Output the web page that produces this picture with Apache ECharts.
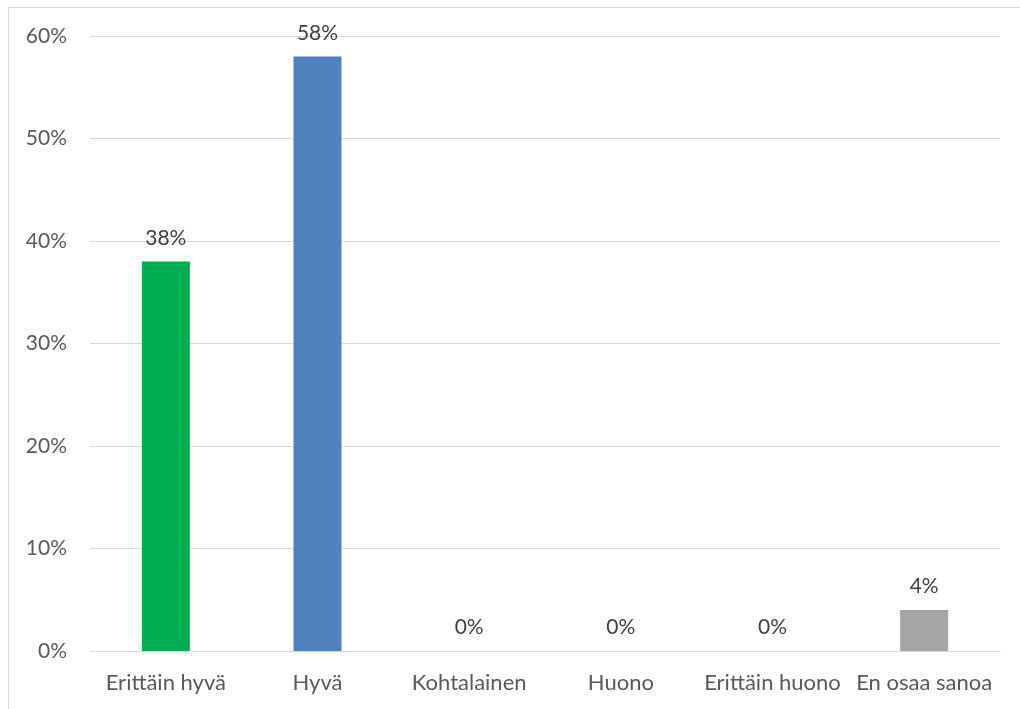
<!DOCTYPE html>
<html>
<head>
<meta charset="utf-8">
<script src="https://cdn.jsdelivr.net/npm/echarts@6/dist/echarts.min.js"></script>
<style>
  html, body { margin: 0; padding: 0; background: #fff; }
  #frame {
    position: absolute; left: 8px; top: 7px; width: 1030px; height: 720px;
    border: 1px solid #d9d9d9; box-sizing: border-box;
  }
  #chart-root { position: absolute; left: 0; top: 0; width: 1020px; height: 709px; }
</style>
</head>
<body>
<div id="frame"></div>
<div id="chart-root"></div>
<script>
const categories = ["Erittäin hyvä", "Hyvä", "Kohtalainen", "Huono", "Erittäin huono", "En osaa sanoa"];
const values = [38, 58, 0, 0, 0, 4];
const barColors = ["#00b050", "#4f81bd", "#4f81bd", "#4f81bd", "#4f81bd", "#a5a5a5"];
const yTicks = [0, 10, 20, 30, 40, 50, 60];

const chart = echarts.init(document.getElementById("chart-root"));
const font = "Lato, 'Open Sans', sans-serif";

chart.setOption({
  animation: false,
  grid: { left: 90, right: 20, top: 36, bottom: 58 },
  xAxis: {
    type: "category",
    data: categories,
    axisTick: { show: false },
    axisLine: { lineStyle: { color: "#d9d9d9", width: 1 } },
    axisLabel: { color: "#595959", fontSize: 22, fontFamily: font, margin: 21, interval: 0 }
  },
  yAxis: {
    type: "value",
    min: yTicks[0],
    max: yTicks[yTicks.length - 1],
    interval: 10,
    axisLine: { show: false },
    axisTick: { show: false },
    splitLine: { lineStyle: { color: "#d9d9d9", width: 1 } },
    axisLabel: { color: "#595959", fontSize: 21, fontFamily: font, margin: 23, formatter: v => v + "%" }
  },
  series: [{
    type: "bar",
    barWidth: 48,
    data: values.map((v, i) => ({ value: v, itemStyle: { color: barColors[i] } })),
    label: {
      show: true,
      position: "top",
      distance: 13,
      color: "#404040",
      fontSize: 21,
      fontFamily: font,
      formatter: p => p.value + "%"
    }
  }]
});
</script>
</body>
</html>
